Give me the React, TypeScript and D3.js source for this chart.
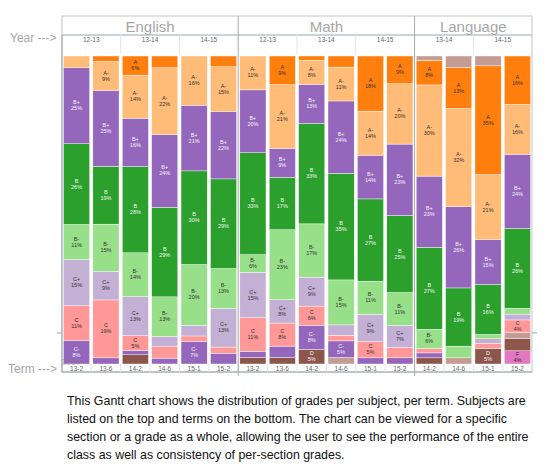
import React from "react";
import * as d3 from "d3";

// Subjects and the terms shown under each one
const subjects = ["English", "Math", "Language"];
const englishTerms = ["13-2", "13-6", "14-2", "14-6", "15-1", "15-2"];
const mathTerms = ["13-2", "13-6", "14-2", "14-6", "15-1", "15-2"];
const languageTerms = ["14-2", "14-6", "15-1", "15-2"];

// Grades from best to worst, and their fill colours
const grades = ["A+", "A", "A-", "B+", "B", "B-", "C+", "C", "C-", "D+", "D", "F"];
const gradeColors = [
  "#c49c94", "#ff7f0e", "#ffbb78", "#9467bd", "#2ca02c", "#98df8a",
  "#c5b0d5", "#ff9896", "#9467bd", "#c49c94", "#8c564b", "#e377c2",
];

// Percent of students per grade (A+ .. F) for every term
const englishValues = [
  [0, 0, 3.8, 24.7, 26.2, 11.4, 15, 11.2, 7.7, 0, 0, 0],
  [0, 1.8, 9.4, 24.6, 18.8, 15.3, 9.3, 18.8, 2, 0, 0, 0],
  [0, 6.2, 14, 15.7, 28, 14.2, 12.7, 4.8, 1.4, 0, 3, 0],
  [0, 3.8, 21.7, 23.6, 29.1, 12.8, 3.4, 3.7, 1.9, 0, 0, 0],
  [0, 0, 16, 21.3, 30.4, 19.7, 3.5, 1.8, 7.3, 0, 0, 0],
  [0, 3.5, 14.6, 21.8, 29.1, 12.9, 12.6, 2, 3.5, 0, 0, 0],
];
const mathValues = [
  [0, 0, 11, 20.4, 33.1, 5.7, 14.8, 10.9, 2, 0, 2.1, 0],
  [0, 9.3, 20.7, 9.4, 17, 22.7, 7.6, 7.5, 3.7, 0, 2.1, 0],
  [0, 1.4, 7.8, 12.7, 32.6, 17.3, 9.4, 6.2, 7.9, 0, 4.7, 0],
  [0, 3.6, 11, 23.5, 34.6, 14.6, 3.4, 1.8, 5.4, 2.1, 0, 0],
  [0, 17.9, 14.3, 14.2, 26.7, 10.8, 8.9, 5.2, 2, 0, 0, 0],
  [0, 9, 19.6, 23.2, 25, 10.7, 7.1, 3.4, 2, 0, 0, 0],
];
const languageValues = [
  [1.4, 8, 29.6, 23.1, 26.6, 6.3, 0, 1.4, 1.6, 0, 2, 0],
  [3.8, 13.2, 31.9, 26.4, 18.9, 3.8, 0, 0, 0, 2, 0, 0],
  [3.2, 35.3, 21.1, 14.6, 16.2, 1.4, 1.6, 1.6, 0, 0, 5, 0],
  [0, 15.7, 16.2, 24.1, 25.9, 1.9, 1.9, 4.1, 0, 2, 3.9, 4.3],
];

const subjectTerms = [englishTerms, mathTerms, languageTerms];
const subjectValues = [englishValues, mathValues, languageValues];

const caption = [
  "This Gantt chart shows the distribution of grades per subject, per term. Subjects are",
  "listed on the top and terms on the bottom. The chart can be viewed for a specific",
  "section or a grade as a whole, allowing the user to see the performance of the entire",
  "class as well as consistency of per-section grades.",
];

const width = 547;
const height = 467;
const frame = { left: 62, right: 532, top: 16, header: 35, yearRow: 54, bottom: 372 };
const plot = { top: 56, bottom: 364 };

const font = "Liberation Sans, Arial, sans-serif";
const darkFills = new Set(["#9467bd", "#2ca02c", "#8c564b"]);
const grayText = "#a6a6a6";
const lineColor = "#9aa5b4";

// "13-2" belongs to school year "12-13"
const yearOf = (term: string) => {
  const y = +term.slice(0, 2);
  return `${y - 1}-${y}`;
};

type Bar = { key: string; subject: string; term: string; row: Record<string, number> };

const bars: Bar[] = subjects.flatMap((subject, si) =>
  subjectTerms[si].map((term, ti) => {
    const row: Record<string, number> = {};
    grades.forEach((g, gi) => (row[g] = subjectValues[si][ti][gi]));
    return { key: `${subject}|${term}`, subject, term, row };
  })
);

export default function App() {
  const x = d3
    .scaleBand<string>()
    .domain(bars.map((b) => b.key))
    .range([frame.left, frame.right])
    .paddingInner(0.11)
    .paddingOuter(0.05);

  const y = d3.scaleLinear().domain([0, 100]).range([plot.bottom, plot.top]);
  const color = d3.scaleOrdinal<string, string>().domain(grades).range(gradeColors);

  // F at the bottom, A+ on top
  const stackKeys = [...grades].reverse();
  const series = d3.stack<Bar>().keys(stackKeys).value((d, k) => d.row[k])(bars);

  const half = (x.step() - x.bandwidth()) / 2;
  const slotStart = (key: string) => (x(key) as number) - half;
  const slotEnd = (key: string) => (x(key) as number) + x.bandwidth() + half;

  // Column spans for the subject headers and year cells
  const sections = subjects.map((subject, si) => {
    const keys = subjectTerms[si].map((t) => `${subject}|${t}`);
    const x0 = si === 0 ? frame.left : slotStart(keys[0]);
    const x1 = si === subjects.length - 1 ? frame.right : slotEnd(keys[keys.length - 1]);
    const years = Array.from(d3.group(subjectTerms[si], yearOf), ([year, terms]) => ({
      year,
      x0: slotStart(`${subject}|${terms[0]}`),
      x1: slotEnd(`${subject}|${terms[terms.length - 1]}`),
    }));
    return { subject, x0, x1, years };
  });

  return (
    <svg width={width} height={height} style={{ position: "absolute", left: 0, top: 0 }}>
      <rect width={width} height={height} fill="#fff" />

      {/* header frame */}
      <rect
        x={frame.left}
        y={frame.top}
        width={frame.right - frame.left}
        height={frame.bottom - frame.top}
        fill="none"
        stroke="#c4c4c4"
      />
      <line x1={frame.left} x2={frame.right} y1={frame.header} y2={frame.header} stroke={lineColor} />
      <line x1={frame.left} x2={frame.right} y1={frame.bottom} y2={frame.bottom} stroke={lineColor} />
      <line x1={frame.left} x2={frame.left} y1={frame.header} y2={frame.bottom} stroke={lineColor} />

      {sections.map((s) => (
        <g key={s.subject}>
          <text
            x={(s.x0 + s.x1) / 2}
            y={frame.top + 10}
            textAnchor="middle"
            dominantBaseline="central"
            fontFamily={font}
            fontSize={15}
            fill={grayText}
          >
            {s.subject}
          </text>
          {s.years.map((yr, i) => (
            <g key={yr.year}>
              {i > 0 && (
                <line x1={yr.x0} x2={yr.x0} y1={frame.header} y2={frame.yearRow} stroke="#e4e4e4" />
              )}
              <text
                x={(yr.x0 + yr.x1) / 2}
                y={frame.header + 4}
                textAnchor="middle"
                dominantBaseline="central"
                fontFamily={font}
                fontSize={6.5}
                fill="#666"
              >
                {yr.year}
              </text>
            </g>
          ))}
        </g>
      ))}

      {/* stacked bars */}
      {series.map((ser) => (
        <g key={ser.key} fill={color(ser.key)}>
          {ser.map((d) =>
            d.data.row[ser.key] > 0 ? (
              <rect
                key={d.data.key}
                x={x(d.data.key)}
                y={y(d[1])}
                width={x.bandwidth()}
                height={y(d[0]) - y(d[1])}
                stroke="#fff"
                strokeWidth={0.4}
              />
            ) : null
          )}
        </g>
      ))}

      {/* segment labels */}
      {series.map((ser) =>
        ser.map((d) => {
          const v = d.data.row[ser.key];
          if (v < 4) return null;
          const cx = (x(d.data.key) as number) + x.bandwidth() / 2;
          const cy = (y(d[0]) + y(d[1])) / 2;
          const fill = darkFills.has(color(ser.key)) ? "#f4f4f4" : "#333";
          return (
            <text
              key={`${ser.key}-${d.data.key}`}
              x={cx}
              y={cy}
              textAnchor="middle"
              fontFamily={font}
              fontSize={5.5}
              fill={fill}
            >
              <tspan x={cx} dy={-1.5}>{ser.key}</tspan>
              <tspan x={cx} dy={6}>{`${Math.round(v)}%`}</tspan>
            </text>
          );
        })
      )}

      {/* term row */}
      {bars.map((b, i) => (
        <g key={b.key}>
          {i > 0 && (
            <line
              x1={slotStart(b.key)}
              x2={slotStart(b.key)}
              y1={plot.bottom}
              y2={frame.bottom}
              stroke="#e0e0e0"
            />
          )}
          <text
            x={(x(b.key) as number) + x.bandwidth() / 2}
            y={plot.bottom + 4.5}
            textAnchor="middle"
            dominantBaseline="central"
            fontFamily={font}
            fontSize={6.5}
            fill="#666"
          >
            {b.term}
          </text>
        </g>
      ))}

      {/* subject dividers */}
      {sections.slice(1).map((s) => (
        <line key={s.subject} x1={s.x0} x2={s.x0} y1={frame.top} y2={frame.bottom + 4} stroke="#a8a8a8" />
      ))}

      <line x1={frame.left - 5} x2={frame.left} y1={333} y2={333} stroke={lineColor} />
      <line x1={frame.right} x2={frame.right + 5} y1={333} y2={333} stroke={lineColor} />

      <text x={61} y={364.5} fontFamily={font} fontSize={9} fill="#888" opacity={0.5}>
        2017
      </text>

      <text x={10} y={38} dominantBaseline="central" fontFamily={font} fontSize={12} fill={grayText}>
        Year ---&gt;
      </text>
      <text x={8} y={369} dominantBaseline="central" fontFamily={font} fontSize={12} fill={grayText}>
        Term ---&gt;
      </text>

      {caption.map((line, i) => (
        <text
          key={i}
          x={67}
          y={401 + i * 18}
          dominantBaseline="central"
          fontFamily={font}
          fontSize={12.4}
          fill="#111"
        >
          {line}
        </text>
      ))}
    </svg>
  );
}
